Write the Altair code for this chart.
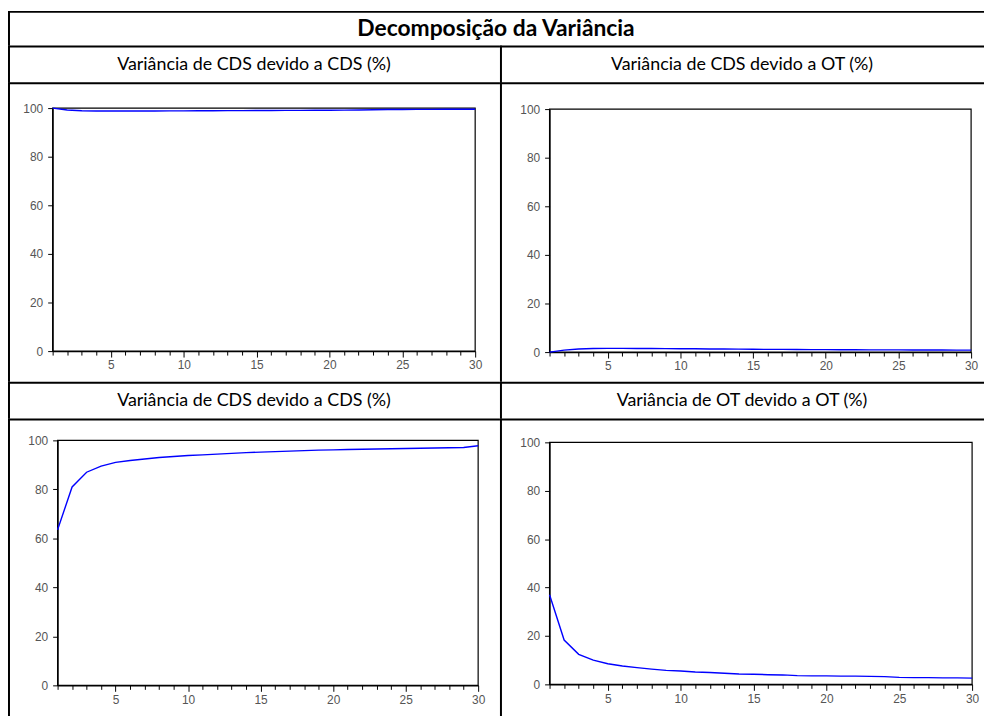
import altair as alt
import pandas as pd

# ---------------- data ----------------
titulo = "Decomposição da Variância"
cabecalhos = [
    "Variância de CDS devido a  CDS (%)",
    "Variância de CDS devido a OT (%)",
    "Variância de CDS devido a CDS (%)",
    "Variância de OT devido a OT (%)",
]
periodos = list(range(1, 31))

cds_cds_topo = [100, 99.2, 98.9, 98.8, 98.8, 98.8, 98.8, 98.8, 98.85, 98.85,
                98.9, 98.9, 98.95, 98.95, 99.0, 99.0, 99.05, 99.05, 99.1, 99.1,
                99.15, 99.2, 99.3, 99.4, 99.4, 99.45, 99.45, 99.5, 99.5, 99.5]
cds_ot = [0.0, 0.8, 1.3, 1.5, 1.55, 1.55, 1.5, 1.5, 1.45, 1.4,
          1.35, 1.3, 1.25, 1.2, 1.15, 1.1, 1.1, 1.05, 1.0, 1.0,
          0.95, 0.95, 0.9, 0.9, 0.9, 0.85, 0.85, 0.85, 0.8, 0.8]
cds_cds_baixo = [63.5, 81.0, 87.0, 89.5, 91.0, 91.8, 92.4, 93.0, 93.4, 93.8,
                 94.1, 94.4, 94.7, 95.0, 95.2, 95.4, 95.6, 95.8, 96.0, 96.1,
                 96.3, 96.4, 96.5, 96.6, 96.7, 96.8, 96.9, 97.0, 97.1, 97.8]
ot_ot = [37.0, 18.3, 12.4, 10.0, 8.5, 7.6, 6.9, 6.3, 5.8, 5.5,
         5.1, 4.9, 4.6, 4.3, 4.2, 4.0, 3.9, 3.6, 3.5, 3.5,
         3.4, 3.4, 3.3, 3.2, 2.9, 2.8, 2.8, 2.7, 2.7, 2.6]
y_ticks = [0, 20, 40, 60, 80, 100]

# ---------------- style ----------------
LEFT_W, RIGHT_W = 496, 488
TITLE_H, HEAD_H = 35, 37
ROW1_H, ROW2_H = 302, 300
LABEL_FONT = "Liberation Sans"
TEXT_FONT = "Lato"
one = pd.DataFrame({"k": [0]})


def borders(w, h):
    # filled rects (no stroke) so the cell bounds stay exactly w x h
    top = alt.Chart(one).mark_rect(color="black", strokeWidth=0).encode(
        x=alt.value(0), x2=alt.value(w), y=alt.value(0), y2=alt.value(2))
    left = alt.Chart(one).mark_rect(color="black", strokeWidth=0).encode(
        x=alt.value(0), x2=alt.value(2), y=alt.value(0), y2=alt.value(h))
    return [top, left]


def header(text, w, h, size=18, bold=False):
    txt = alt.Chart(pd.DataFrame({"t": [text]})).mark_text(
        font=TEXT_FONT, fontSize=size, fontWeight="bold" if bold else "normal",
        color="black", baseline="middle", align="center"
    ).encode(
        text="t:N", x=alt.value(w / 2), y=alt.value(h / 2 + 1)
    )
    return alt.layer(txt, *borders(w, h)).properties(width=w, height=h)


def panel(values, w, h, x0, x1, ytop, ybot):
    df = pd.DataFrame({"periodo": periodos, "valor": values})
    xs = alt.Scale(domain=[1, 30], range=[x0, x1], nice=False, zero=False)
    ys = alt.Scale(domain=[0, 100], range=[ybot, ytop], nice=False)
    xaxis = alt.Axis(
        values=periodos, title=None, grid=False,
        labelExpr="datum.value % 5 == 0 ? datum.label : ''",
        tickSize={"condition": {"test": "datum.value % 5 == 0", "value": 6}, "value": 4},
        offset=-(h - ybot), domainColor="black", tickColor="black",
        labelColor="#555555", labelFont=LABEL_FONT, labelFontSize=12,
        labelPadding=3, labelFlush=False, labelOverlap=False, domainWidth=1.2,
    )
    yaxis = alt.Axis(
        values=y_ticks, title=None, grid=False, tickSize=5,
        offset=-x0, domainColor="black", tickColor="black",
        labelColor="#555555", labelFont=LABEL_FONT, labelFontSize=12,
        labelPadding=5, labelFlush=False, labelOverlap=False, domainWidth=1.2,
    )
    frame = alt.Chart(one).mark_rect(
        fillOpacity=0, stroke="black", strokeWidth=1.2
    ).encode(
        x=alt.datum(1, scale=xs, axis=xaxis),
        x2=alt.datum(30),
        y=alt.datum(0, scale=ys, axis=yaxis),
        y2=alt.datum(100),
    )
    line = alt.Chart(df).mark_line(color="#0000ff", strokeWidth=1.4).encode(
        x=alt.X("periodo:Q", scale=xs, axis=xaxis),
        y=alt.Y("valor:Q", scale=ys, axis=yaxis),
    )
    return alt.layer(frame, line, *borders(w, h)).properties(width=w, height=h)


top_title = header(titulo, LEFT_W + RIGHT_W, TITLE_H, size=23, bold=True)
row_h1 = alt.hconcat(header(cabecalhos[0], LEFT_W, HEAD_H),
                     header(cabecalhos[1], RIGHT_W, HEAD_H), spacing=0)
row_p1 = alt.hconcat(panel(cds_cds_topo, LEFT_W, ROW1_H, 45, 471, 26, 271),
                     panel(cds_ot, RIGHT_W, ROW1_H, 50, 475, 27, 272), spacing=0)
row_h2 = alt.hconcat(header(cabecalhos[2], LEFT_W, HEAD_H),
                     header(cabecalhos[3], RIGHT_W, HEAD_H), spacing=0)
row_p2 = alt.hconcat(panel(cds_cds_baixo, LEFT_W, ROW2_H, 50, 474, 22, 269),
                     panel(ot_ot, RIGHT_W, ROW2_H, 50, 476, 24, 268), spacing=0)

chart = alt.vconcat(top_title, row_h1, row_p1, row_h2, row_p2, spacing=0).properties(
    padding=0, background="white"
).configure_view(
    strokeWidth=0
).configure_concat(spacing=0)

chart.save("out.html", embed_options={"renderer": "svg", "actions": False})
